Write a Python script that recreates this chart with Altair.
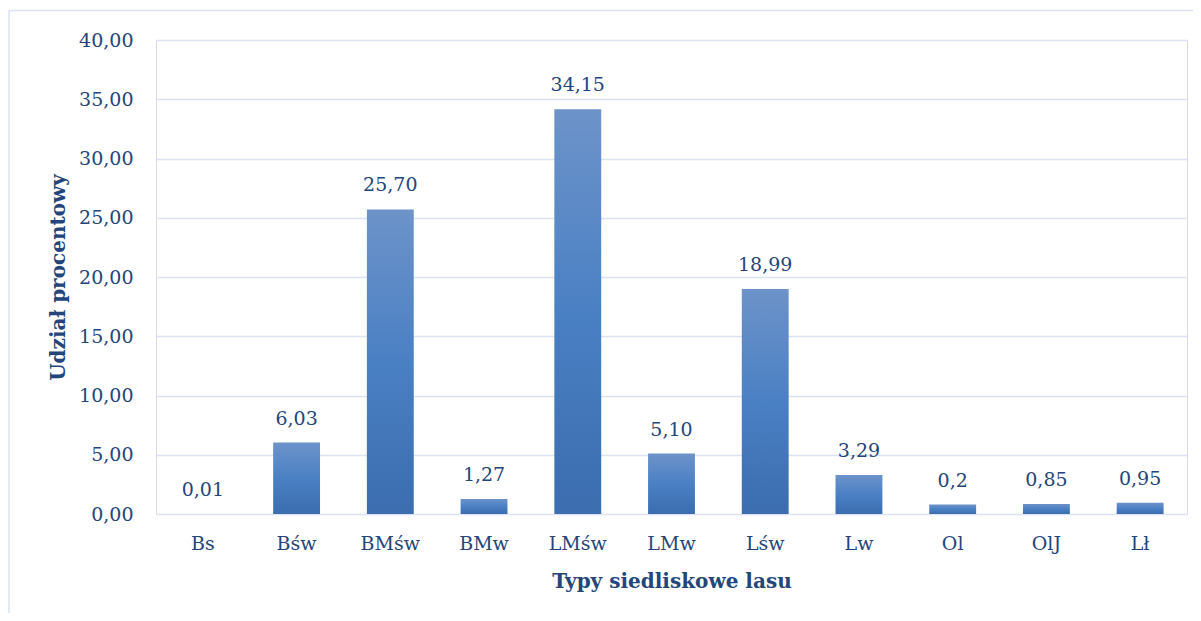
import altair as alt
import pandas as pd

categories = ["Bs", "Bśw", "BMśw", "BMw", "LMśw", "LMw", "Lśw", "Lw", "Ol", "OlJ", "Lł"]
values = [0.01, 6.03, 25.70, 1.27, 34.15, 5.10, 18.99, 3.29, 0.80, 0.85, 0.95]
value_labels = ["0,01", "6,03", "25,70", "1,27", "34,15", "5,10", "18,99", "3,29", "0,2", "0,85", "0,95"]

df = pd.DataFrame({"typ": categories, "udzial": values, "etykieta": value_labels})

FONT = "DejaVu Serif"
TXT = "#23457A"
GRID = "#D9E3F3"
FS = 19

grad = alt.LinearGradient(
    gradient="linear", x1=0, y1=0, x2=0, y2=1,
    stops=[alt.GradientStop(offset=0, color="#6D93C9"),
           alt.GradientStop(offset=0.5, color="#4A80C4"),
           alt.GradientStop(offset=1, color="#3B6DAF")],
)

x_enc = alt.X("typ:N", sort=categories,
              scale=alt.Scale(paddingInner=0.5, paddingOuter=0.25),
              axis=alt.Axis(title="Typy siedliskowe lasu", labelAngle=0, domain=False, ticks=False,
                            labelPadding=20, titlePadding=18, labelFontSize=FS, titleFontSize=20,
                            labelFont=FONT, titleFont=FONT, labelColor=TXT, titleColor=TXT,
                            titleFontWeight="bold"))
y_enc = alt.Y("udzial:Q", scale=alt.Scale(domain=[0, 40], nice=False),
              axis=alt.Axis(title="Udział procentowy", values=list(range(0, 45, 5)),
                            labelExpr="replace(format(datum.value, '.2f'), '.', ',')",
                            domain=False, ticks=False, labelPadding=23, titlePadding=10,
                            labelFontSize=FS, titleFontSize=20, labelFont=FONT, titleFont=FONT,
                            labelColor=TXT, titleColor=TXT, titleFontWeight="bold",
                            gridColor=GRID, gridWidth=1.5))

bars = alt.Chart(df).mark_bar(color=grad).encode(x=x_enc, y=y_enc)
labels = alt.Chart(df).mark_text(font=FONT, fontSize=FS, color=TXT, baseline="alphabetic", dy=-18).encode(
    x=alt.X("typ:N", sort=categories), y="udzial:Q", text="etykieta:N")

frame_df = pd.DataFrame({"k": [0]})
top_line = alt.Chart(frame_df).mark_rule(color=GRID, strokeWidth=1.5).encode(
    x=alt.value(-147), x2=alt.value(1060), y=alt.value(-29.5))
left_line = alt.Chart(frame_df).mark_rule(color=GRID, strokeWidth=1.5).encode(
    x=alt.value(-147), y=alt.value(-29.5), y2=alt.value(590))

chart = alt.layer(bars, labels, top_line, left_line).properties(
    width=1031, height=474,
    autosize=alt.AutoSizeParams(type="none"),
    padding={"left": 148, "top": 32, "right": 6, "bottom": 99},
).configure_view(stroke=None).configure(background="white")

chart.save("out.html", embed_options={"renderer": "svg", "actions": False})
